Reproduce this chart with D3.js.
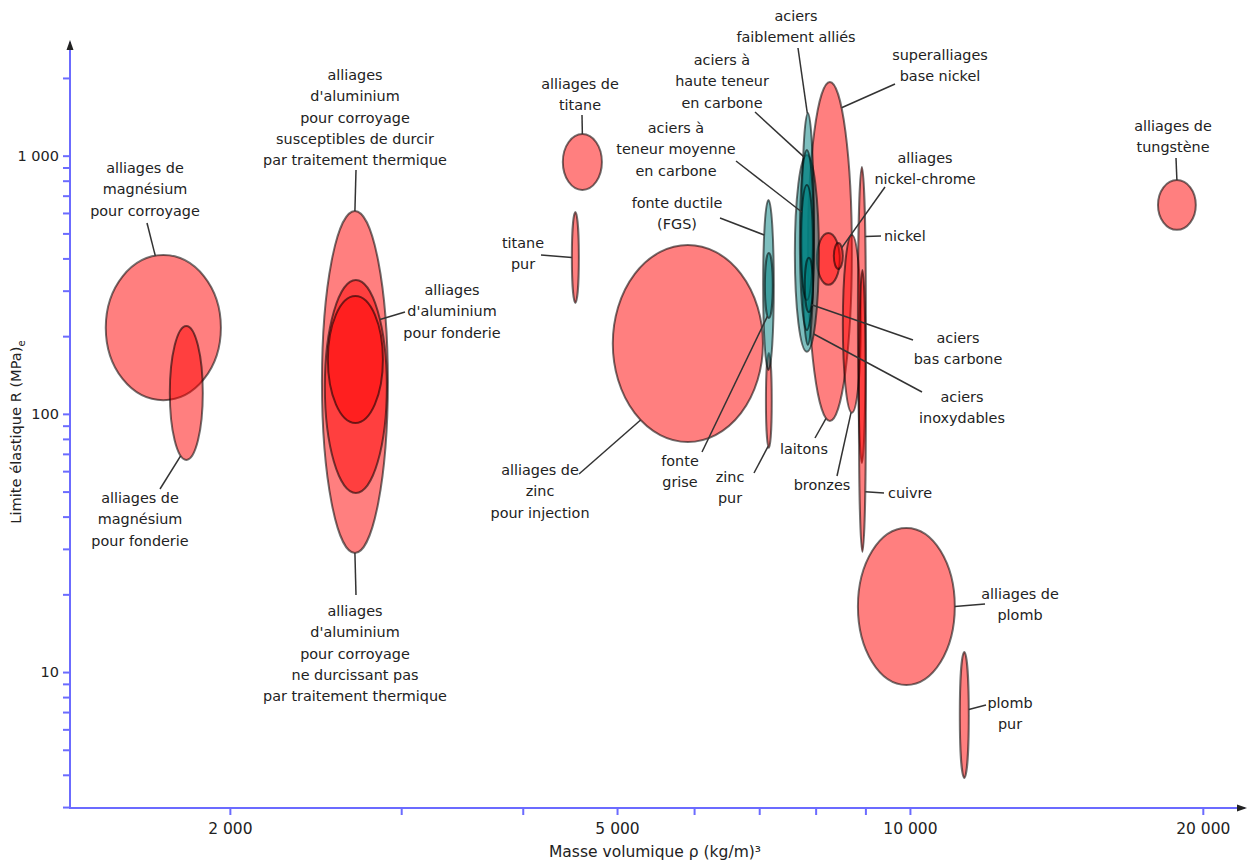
<!DOCTYPE html>
<meta charset="utf-8">
<title>Limite élastique / masse volumique</title>
<script src="https://d3js.org/d3.v7.min.js"></script>
<style>
body { margin: 0; background: #fff; }
text { font-family: "DejaVu Sans", sans-serif; fill: #222; }
.lbl { font-size: 14.4px; }
</style>
<body>
<div id="chart"></div>
<script>
// --- data: density range (kg/m3) and yield strength range (MPa) per material
var materials = ["alliages de magnésium pour corroyage", "alliages de magnésium pour fonderie",
  "alliages d'aluminium durcissants", "alliages d'aluminium pour fonderie", "alliages d'aluminium non durcissants",
  "alliages de titane", "titane pur", "alliages de zinc pour injection", "zinc pur",
  "superalliages base nickel", "alliages nickel-chrome (a)", "alliages nickel-chrome (b)", "bronzes",
  "nickel", "cuivre", "alliages de plomb", "plomb pur", "alliages de tungstène",
  "fonte ductile", "fonte grise", "aciers inoxydables", "aciers faiblement alliés",
  "aciers haute teneur en carbone", "aciers teneur moyenne en carbone", "aciers bas carbone"];
var rhoMin = [1491, 1735, 2487, 2504, 2522, 4398, 4493, 4950, 7112, 7854, 8023, 8352, 8532, 8842, 8863, 8842, 11253, 17987,
  7065, 7095, 7616, 7743, 7707, 7725, 7798];
var rhoMax = [1958, 1876, 2907, 2900, 2873, 4824, 4568, 7062, 7211, 8717, 8471, 8532, 8905, 9010, 9010, 11121, 11495, 19671,
  7246, 7228, 8062, 7967, 7967, 7948, 7948];
var sigMin = [113, 66.3, 28.9, 49.4, 92.2, 737, 269, 77.8, 73.8, 93.9, 316, 364, 101, 64.5, 29.2, 8.91, 3.89, 516,
  148, 235, 174, 185, 211, 276, 248];
var sigMax = [412, 219, 611, 330, 286, 1213, 605, 451, 172, 1929, 502, 459, 493, 904, 361, 36.1, 11.96, 805,
  674, 420, 1006, 1463, 1052, 770, 402];
var family = ["m", "m", "m", "m", "m", "m", "m", "m", "m", "m", "m", "m", "m", "m", "m", "m", "m", "m",
  "f", "f", "f", "f", "f", "f", "f"];

var xTicks = [2000, 3000, 4000, 5000, 6000, 7000, 8000, 9000, 10000, 20000];
var xLabels = [2000, 5000, 10000, 20000];
var yTicks = [3, 4, 5, 6, 7, 8, 9, 10, 20, 30, 40, 50, 60, 70, 80, 90, 100, 200, 300, 400, 500, 600, 700, 800, 900, 1000, 2000];
var yLabels = [10, 100, 1000];

// --- labels: material index, angle on the ellipse (deg), leader start, text position
var notes = [
  {m: 0, t: 98, p: [147, 223], x: 145, y: 168, lines: ["alliages de", "magnésium", "pour corroyage"]},
  {m: 1, t: 250, p: [160, 489], x: 140, y: 498, lines: ["alliages de", "magnésium", "pour fonderie"]},
  {m: 2, t: 90, p: [356, 170], x: 355, y: 75, lines: ["alliages", "d'aluminium", "pour corroyage", "susceptibles de durcir", "par traitement thermique"]},
  {m: 2, t: 270, p: [356, 595], x: 355, y: 611, lines: ["alliages", "d'aluminium", "pour corroyage", "ne durcissant pas", "par traitement thermique"]},
  {m: 3, t: 39, p: [405, 312], x: 452, y: 290, lines: ["alliages", "d'aluminium", "pour fonderie"]},
  {m: 5, t: 90, p: [582, 115], x: 580, y: 84, lines: ["alliages de", "titane"]},
  {m: 6, t: 180, p: [541, 255], x: 523, y: 243, lines: ["titane", "pur"]},
  {m: 7, t: 231, p: [579, 474], x: 540, y: 470, lines: ["alliages de", "zinc", "pour injection"]},
  {m: 18, t: 144, p: [720, 218], x: 677, y: 203, lines: ["fonte ductile", "(FGS)"]},
  {m: 19, t: 250, p: [702, 452], x: 680, y: 461, lines: ["fonte", "grise"]},
  {m: 8, t: 255, p: [754, 473], x: 730, y: 477, lines: ["zinc", "pur"]},
  {m: 21, t: 95, p: [798, 48], x: 796, y: 16, lines: ["aciers", "faiblement alliés"]},
  {m: 22, t: 113, p: [755, 112], x: 722, y: 60, lines: ["aciers à", "haute teneur", "en carbone"]},
  {m: 23, t: 148, p: [736, 161], x: 676, y: 128, lines: ["aciers à", "teneur moyenne", "en carbone"]},
  {m: 9, t: 58, p: [895, 84], x: 940, y: 55, lines: ["superalliages", "base nickel"]},
  {m: 11, t: 40, p: [885, 187], x: 925, y: 158, lines: ["alliages", "nickel-chrome"]},
  {m: 13, t: 32, p: [881, 236], x: 884, y: 236, lines: ["nickel"], a: "start"},
  {m: 24, t: 313, p: [913, 340], x: 958, y: 338, lines: ["aciers", "bas carbone"]},
  {m: 20, t: 305, p: [922, 392], x: 962, y: 397, lines: ["aciers", "inoxydables"]},
  {m: 9, t: 260, p: [815, 438], x: 804, y: 449, lines: ["laitons"]},
  {m: 12, t: 265, p: [837, 476], x: 822, y: 485, lines: ["bronzes"]},
  {m: 14, t: 325, p: [884, 493], x: 888, y: 493, lines: ["cuivre"], a: "start"},
  {m: 15, t: 0, p: [985, 604], x: 1020, y: 594, lines: ["alliages de", "plomb"]},
  {m: 16, t: 5, p: [986, 705], x: 1010, y: 703, lines: ["plomb", "pur"]},
  {m: 17, t: 90, p: [1176, 158], x: 1173, y: 126, lines: ["alliages de", "tungstène"]}
];

var width = 1248, height = 866;
var axisColor = "#6b6bff";
var fr = d3.formatLocale({decimal: ",", thousands: " ", grouping: [3], currency: ["", ""]}).format(",d");

var svg = d3.select("#chart").append("svg")
  .attr("width", width)
  .attr("height", height);

// log scales, both axes
var x = d3.scaleLog().domain([1370, 22100]).range([70, 1245]);
var y = d3.scaleLog().domain([2.975, 2756]).range([808, 42]);

// ellipses
var ell = materials.map(function(d, i) {
  var x0 = x(rhoMin[i]), x1 = x(rhoMax[i]), y0 = y(sigMax[i]), y1 = y(sigMin[i]);
  return {name: d, fam: family[i], cx: (x0 + x1) / 2, cy: (y0 + y1) / 2, rx: (x1 - x0) / 2, ry: (y1 - y0) / 2};
});

svg.append("g")
  .selectAll("ellipse")
  .data(ell)
  .enter()
  .append("ellipse")
    .attr("cx", function(d) { return d.cx; })
    .attr("cy", function(d) { return d.cy; })
    .attr("rx", function(d) { return d.rx; })
    .attr("ry", function(d) { return d.ry; })
    .style("fill", function(d) { return d.fam == "m" ? "rgba(255,0,0,0.5)" : "rgba(0,128,128,0.5)"; })
    .style("stroke", "rgba(0,0,0,0.55)")
    .style("stroke-width", 2);

// leader lines + labels
var lg = svg.append("g");
notes.forEach(function(n) {
  var e = ell[n.m], a = n.t * Math.PI / 180;
  lg.append("line")
    .attr("x1", n.p[0]).attr("y1", n.p[1])
    .attr("x2", e.cx + e.rx * Math.cos(a))
    .attr("y2", e.cy - e.ry * Math.sin(a))
    .style("stroke", "#333")
    .style("stroke-width", 1.5);
  var t = lg.append("text")
    .attr("class", "lbl")
    .attr("text-anchor", n.a || "middle");
  n.lines.forEach(function(s, k) {
    t.append("tspan")
      .attr("x", n.x)
      .attr("y", n.y + k * 21.3)
      .attr("dy", "0.35em")
      .text(s);
  });
});

// axes
var gx = svg.append("g").attr("transform", "translate(0,808)");
gx.call(d3.axisBottom(x).tickValues(xTicks).tickSize(7).tickPadding(8)
  .tickFormat(function(d) { return xLabels.indexOf(d) >= 0 ? fr(d) : ""; }));
var gy = svg.append("g").attr("transform", "translate(70,0)");
gy.call(d3.axisLeft(y).tickValues(yTicks).tickSize(7).tickPadding(4)
  .tickFormat(function(d) { return yLabels.indexOf(d) >= 0 ? fr(d) : ""; }));

[gx, gy].forEach(function(g) {
  g.select(".domain").remove();
  g.selectAll(".tick line").style("stroke", axisColor).style("stroke-width", 2);
  g.selectAll(".tick text").style("fill", "#222")
    .style("font-family", "'DejaVu Sans', sans-serif");
});
gx.selectAll(".tick text").style("font-size", "15.5px");
gy.selectAll(".tick text").style("font-size", "14.5px");

svg.append("path")
  .attr("d", "M70,42V808H1245")
  .style("fill", "none")
  .style("stroke", axisColor)
  .style("stroke-width", 2);
// arrow heads
svg.append("path").attr("d", "M70,40L66.5,50L73.5,50Z").style("fill", "#222");
svg.append("path").attr("d", "M1247,808L1237,804.5L1237,811.5Z").style("fill", "#222");

// axis titles
svg.append("text")
  .attr("x", 655).attr("y", 857)
  .attr("text-anchor", "middle")
  .style("font-size", "15.5px")
  .text("Masse volumique ρ (kg/m)³");

var yt = svg.append("text")
  .attr("transform", "translate(21,432) rotate(-90)")
  .attr("text-anchor", "middle")
  .style("font-size", "14.6px");
yt.append("tspan").text("Limite élastique R (MPa)");
yt.append("tspan").attr("dy", 4).style("font-size", "10px").text("e");
</script>
</body>
